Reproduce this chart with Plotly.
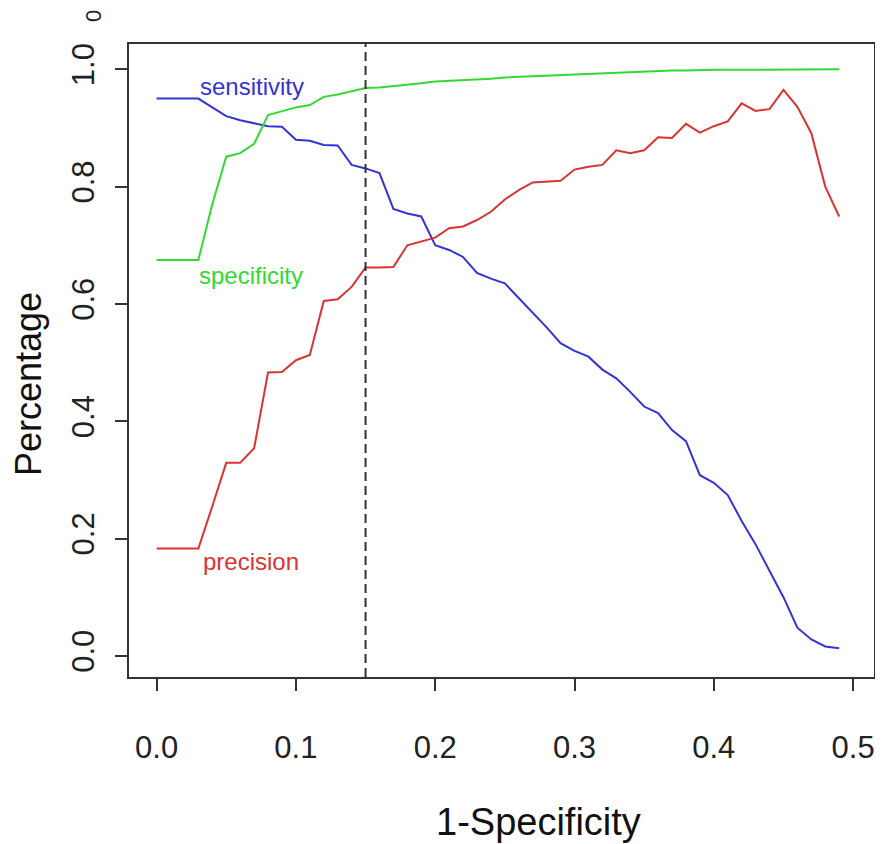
import plotly.graph_objects as go

fpr = [round(0.01 * i, 2) for i in range(50)]

sensitivity = [0.950, 0.950, 0.950, 0.950, 0.935, 0.920, 0.913, 0.908, 0.903, 0.902,
               0.880, 0.878, 0.871, 0.870, 0.837, 0.831, 0.823, 0.762, 0.754, 0.749,
               0.700, 0.692, 0.680, 0.653, 0.643, 0.635, 0.610, 0.585, 0.560, 0.533,
               0.520, 0.510, 0.488, 0.473, 0.450, 0.425, 0.414, 0.385, 0.366, 0.308,
               0.295, 0.274, 0.230, 0.190, 0.145, 0.100, 0.048, 0.028, 0.016, 0.013]

specificity = [0.675, 0.675, 0.675, 0.675, 0.770, 0.851, 0.857, 0.873, 0.922, 0.928,
               0.935, 0.939, 0.953, 0.957, 0.963, 0.968, 0.969, 0.971, 0.974, 0.976,
               0.979, 0.980, 0.981, 0.982, 0.984, 0.986, 0.987, 0.989, 0.990, 0.991,
               0.992, 0.993, 0.994, 0.995, 0.996, 0.997, 0.997, 0.998, 0.998, 0.999,
               0.999, 0.999, 0.999, 1.000, 1.000, 1.000, 1.000, 1.000, 1.000, 1.000]

precision = [0.183, 0.183, 0.183, 0.183, 0.255, 0.329, 0.329, 0.354, 0.483, 0.484,
             0.504, 0.513, 0.605, 0.608, 0.629, 0.662, 0.662, 0.663, 0.700, 0.706,
             0.713, 0.729, 0.732, 0.743, 0.757, 0.778, 0.794, 0.807, 0.808, 0.810,
             0.829, 0.834, 0.837, 0.862, 0.857, 0.862, 0.884, 0.883, 0.907, 0.892,
             0.903, 0.911, 0.942, 0.929, 0.932, 0.965, 0.936, 0.891, 0.800, 0.749]

cutoff = 0.15
x_ticks = [0.0, 0.1, 0.2, 0.3, 0.4, 0.5]
y_ticks = [0.0, 0.2, 0.4, 0.6, 0.8, 1.0]

BLUE = "#3434d2"
GREEN = "#33d933"
RED = "#d93333"
FONT = "Liberation Sans, Arial, sans-serif"

fig = go.Figure()
for name, vals, col in [("sensitivity", sensitivity, BLUE),
                        ("specificity", specificity, GREEN),
                        ("precision", precision, RED)]:
    fig.add_trace(go.Scatter(x=fpr, y=vals, mode="lines", name=name,
                             line=dict(color=col, width=2)))

fig.add_shape(type="line", x0=cutoff, x1=cutoff, xref="x", y0=0, y1=1, yref="paper",
              line=dict(color="#333333", width=2, dash="9px,5px"))

labels = [("sensitivity", 0.0295, 0.970, BLUE),
          ("specificity", 0.0287, 0.649, GREEN),
          ("precision", 0.032, 0.160, RED)]
for txt, lx, ly, col in labels:
    fig.add_annotation(x=lx, y=ly, text=txt, showarrow=False, xanchor="left",
                       yanchor="middle", font=dict(size=24, color=col, family=FONT))

# plot area: absolute x 129..874, y 44..677 (page has an 8px body offset)
def px(X):
    return (X - 129) / 745

def py(Y):
    return 1 - (Y - 44) / 633

fig.add_annotation(x=px(28), y=py(384), xref="paper", yref="paper",
                   xanchor="center", yanchor="middle", borderpad=0,
                   text="Percentage", textangle=-90, showarrow=False,
                   font=dict(size=36, color="#111111", family=FONT))
fig.add_annotation(x=px(538), y=py(822), xref="paper", yref="paper",
                   xanchor="center", yanchor="middle",
                   text="1-Specificity", showarrow=False,
                   font=dict(size=38, color="#111111", family=FONT))
fig.add_annotation(x=px(93), y=py(16), xref="paper", yref="paper",
                   xanchor="center", yanchor="middle",
                   text="0", textangle=-90, showarrow=False,
                   font=dict(size=22, color="#222222", family=FONT))

axis_common = dict(showgrid=False, zeroline=False, showline=True, mirror=True,
                   linecolor="#333333", linewidth=2, ticks="outside", ticklen=12,
                   tickwidth=1.5, tickcolor="#333333", automargin=False,
                   tickfont=dict(size=31, color="#222222", family=FONT))

fig.update_layout(
    width=875, height=836,
    margin=dict(l=121, r=9, t=36, b=167, autoexpand=False),
    paper_bgcolor="white", plot_bgcolor="white",
    showlegend=False,
    xaxis=dict(range=[-0.0198, 0.515], tickvals=x_ticks,
               ticktext=[f"{v:.1f}" for v in x_ticks], ticklabelstandoff=30,
               **axis_common),
    yaxis=dict(range=[-0.0361, 1.0431], tickvals=y_ticks,
               ticktext=[f"{v:.1f}" for v in y_ticks], tickangle=-90,
               ticklabelstandoff=9, **axis_common),
)

fig.write_html("out.html")
